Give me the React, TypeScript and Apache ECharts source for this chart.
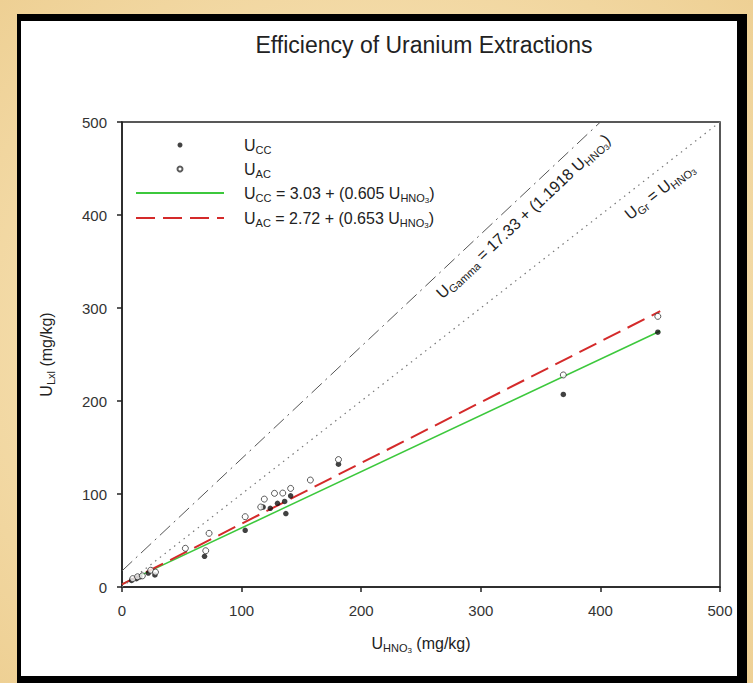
import React, { useEffect, useRef } from "react";
import * as echarts from "echarts";

// ---- data ----
const ccPoints: [number, number][] = [
  [8, 7], [12, 9], [15, 11], [22, 15], [27.5, 13], [69, 33], [103, 61],
  [118, 86], [124, 84.6], [130, 90], [136, 92], [137, 79], [141, 98],
  [181, 132], [369, 207], [448, 274],
];
const acPoints: [number, number][] = [
  [9, 9], [13, 11], [17, 12], [24, 18], [28, 16], [53, 41.6], [70, 39],
  [72.8, 57.7], [103, 75.6], [116, 86], [119, 94.5], [127.5, 100.7],
  [134.4, 101], [141, 106], [157.5, 115], [181, 137], [369, 228], [448, 291],
];
// fitted lines (end points as drawn)
const ccFit: [number, number][] = [[0, 3.03], [450, 275.3]];
const acFit: [number, number][] = [[0, 2.72], [450, 296.6]];
const gammaLine: [number, number][] = [[0, 17.33], [400, 500]];
const identityLine: [number, number][] = [[0, 0], [500, 500]];

const titleText = "Efficiency of Uranium Extractions";
const legendLabels: Record<string, string> = {
  cc: "{sp| }{m|U}{s|CC}",
  ac: "{sp| }{m|U}{s|AC}",
  ccFit: "{sp| }{m|U}{s|CC}{m| = 3.03 + (0.605 U}{s|HNO}{t|3}{m|)}",
  acFit: "{sp| }{m|U}{s|AC}{m| = 2.72 + (0.653 U}{s|HNO}{t|3}{m|)}",
};
const gammaLabel = "{m|U}{s|Gamma}{m| = 17.33 + (1.1918 U}{s|HNO}{t|3}{m|)}";
const identityLabel = "{m|U}{s|Gr}{m| = U}{s|HNO}{t|3}";
const xName = "{m|U}{s|HNO}{t|3}{m| (mg/kg)}";
const yName = "{m|U}{s|Lxl}{m| (mg/kg)}";

const FONT = '"Liberation Sans", Arial, Helvetica, sans-serif';
const TEXT = "#222";

function rich(size: number) {
  const s = Math.round(size * 0.68);
  const t = Math.round(size * 0.5);
  return {
    m: { fontFamily: FONT, fontSize: size, lineHeight: 24, color: TEXT },
    s: { fontFamily: FONT, fontSize: s, padding: [9, 0, 0, 0], color: TEXT },
    t: { fontFamily: FONT, fontSize: t, padding: [14, 0, 0, 0], color: TEXT },
    sp: { width: 15 },
  };
}

export default function App() {
  const ref = useRef<HTMLDivElement>(null);
  useEffect(() => {
    if (!ref.current) return;
    const chart = echarts.init(ref.current, null, { renderer: "svg" });
    const option: any = {
      animation: false,
      backgroundColor: "transparent",
      title: {
        text: titleText,
        left: 419,
        top: 28,
        textAlign: "center",
        textStyle: { fontFamily: FONT, fontSize: 23, fontWeight: "normal", color: TEXT },
      },
      legend: {
        orient: "vertical",
        left: 135,
        top: 137,
        padding: 0,
        itemGap: 6,
        itemWidth: 88,
        itemHeight: 5,
        selectedMode: false,
        data: [
          { name: "cc" },
          { name: "ac" },
          { name: "ccFit", itemStyle: { opacity: 0 } },
          { name: "acFit", itemStyle: { opacity: 0 } },
        ],
        formatter: (name: string) => legendLabels[name],
        textStyle: { fontFamily: FONT, fontSize: 16, color: TEXT, rich: rich(16) },
      },
      grid: {
        left: 122,
        top: 122,
        width: 598,
        height: 465,
        show: true,
        borderColor: "#222",
        borderWidth: 1.5,
        backgroundColor: "transparent",
      },
      xAxis: {
        type: "value",
        min: 0,
        max: 500,
        interval: 100,
        name: xName,
        nameLocation: "middle",
        nameGap: 44,
        nameTextStyle: { rich: rich(16) },
        axisLine: { show: true, lineStyle: { color: "#222", width: 1.5 } },
        axisTick: { show: true, inside: false, length: 5, lineStyle: { color: "#222", width: 1.5 } },
        axisLabel: { margin: 16, fontFamily: FONT, fontSize: 15, color: "#333" },
        splitLine: { show: false },
      },
      yAxis: {
        type: "value",
        min: 0,
        max: 500,
        interval: 100,
        name: yName,
        nameLocation: "middle",
        nameGap: 64,
        nameRotate: 90,
        nameTextStyle: { rich: rich(16) },
        axisLine: { show: true, lineStyle: { color: "#222", width: 1.5 } },
        axisTick: { show: true, inside: false, length: 5, lineStyle: { color: "#222", width: 1.5 } },
        axisLabel: { margin: 15, fontFamily: FONT, fontSize: 15, color: "#333" },
        splitLine: { show: false },
      },
      series: [
        {
          name: "identity",
          type: "line",
          data: [],
          silent: true,
          markLine: {
            silent: true,
            symbol: ["none", "none"],
            lineStyle: { color: "#777", width: 1.2, type: [1.5, 4.5] },
            label: {
              show: true,
              position: "insideEndBottom",
              distance: [49, 5],
              formatter: identityLabel,
              rich: rich(16),
            },
            data: [[{ coord: identityLine[0] }, { coord: identityLine[1] }]],
          },
        },
        {
          name: "gamma",
          type: "line",
          data: [],
          silent: true,
          markLine: {
            silent: true,
            symbol: ["none", "none"],
            lineStyle: { color: "#555", width: 1, type: [14, 5, 2, 5] },
            label: {
              show: true,
              position: "insideEndBottom",
              distance: [5, 4],
              formatter: gammaLabel,
              rich: rich(16),
            },
            data: [[{ coord: gammaLine[0] }, { coord: gammaLine[1] }]],
          },
        },
        {
          name: "ccFit",
          type: "line",
          data: ccFit,
          symbol: "none",
          silent: true,
          lineStyle: { color: "#3cc83c", width: 1.5 },
          itemStyle: { color: "#3cc83c" },
          z: 3,
        },
        {
          name: "acFit",
          type: "line",
          data: acFit,
          symbol: "none",
          silent: true,
          lineStyle: { color: "#d42a2a", width: 2, type: [19, 8] },
          itemStyle: { color: "#d42a2a" },
          z: 3,
        },
        {
          name: "cc",
          type: "scatter",
          data: ccPoints,
          symbol: "circle",
          symbolSize: 5.5,
          itemStyle: { color: "#111" },
          z: 5,
        },
        {
          name: "ac",
          type: "scatter",
          data: acPoints,
          symbol: "circle",
          symbolSize: 6,
          itemStyle: { color: "#fff", borderColor: "#333", borderWidth: 1 },
          z: 6,
        },
      ],
    };
    chart.setOption(option);
    return () => chart.dispose();
  }, []);

  return (
    <div
      style={{
        position: "absolute",
        left: 0,
        top: 0,
        width: 753,
        height: 683,
        overflow: "hidden",
        background: "radial-gradient(ellipse at center, #fbeccb 0%, #f4dcaa 60%, #eed094 100%)",
      }}
    >
      <div style={{ position: "absolute", left: 17, top: 14, width: 730, height: 669, background: "#000" }} />
      <div style={{ position: "absolute", left: 21, top: 21, width: 716, height: 655, background: "#fff" }} />
      <div ref={ref} style={{ position: "absolute", left: 0, top: 0, width: 753, height: 683 }} />
    </div>
  );
}
